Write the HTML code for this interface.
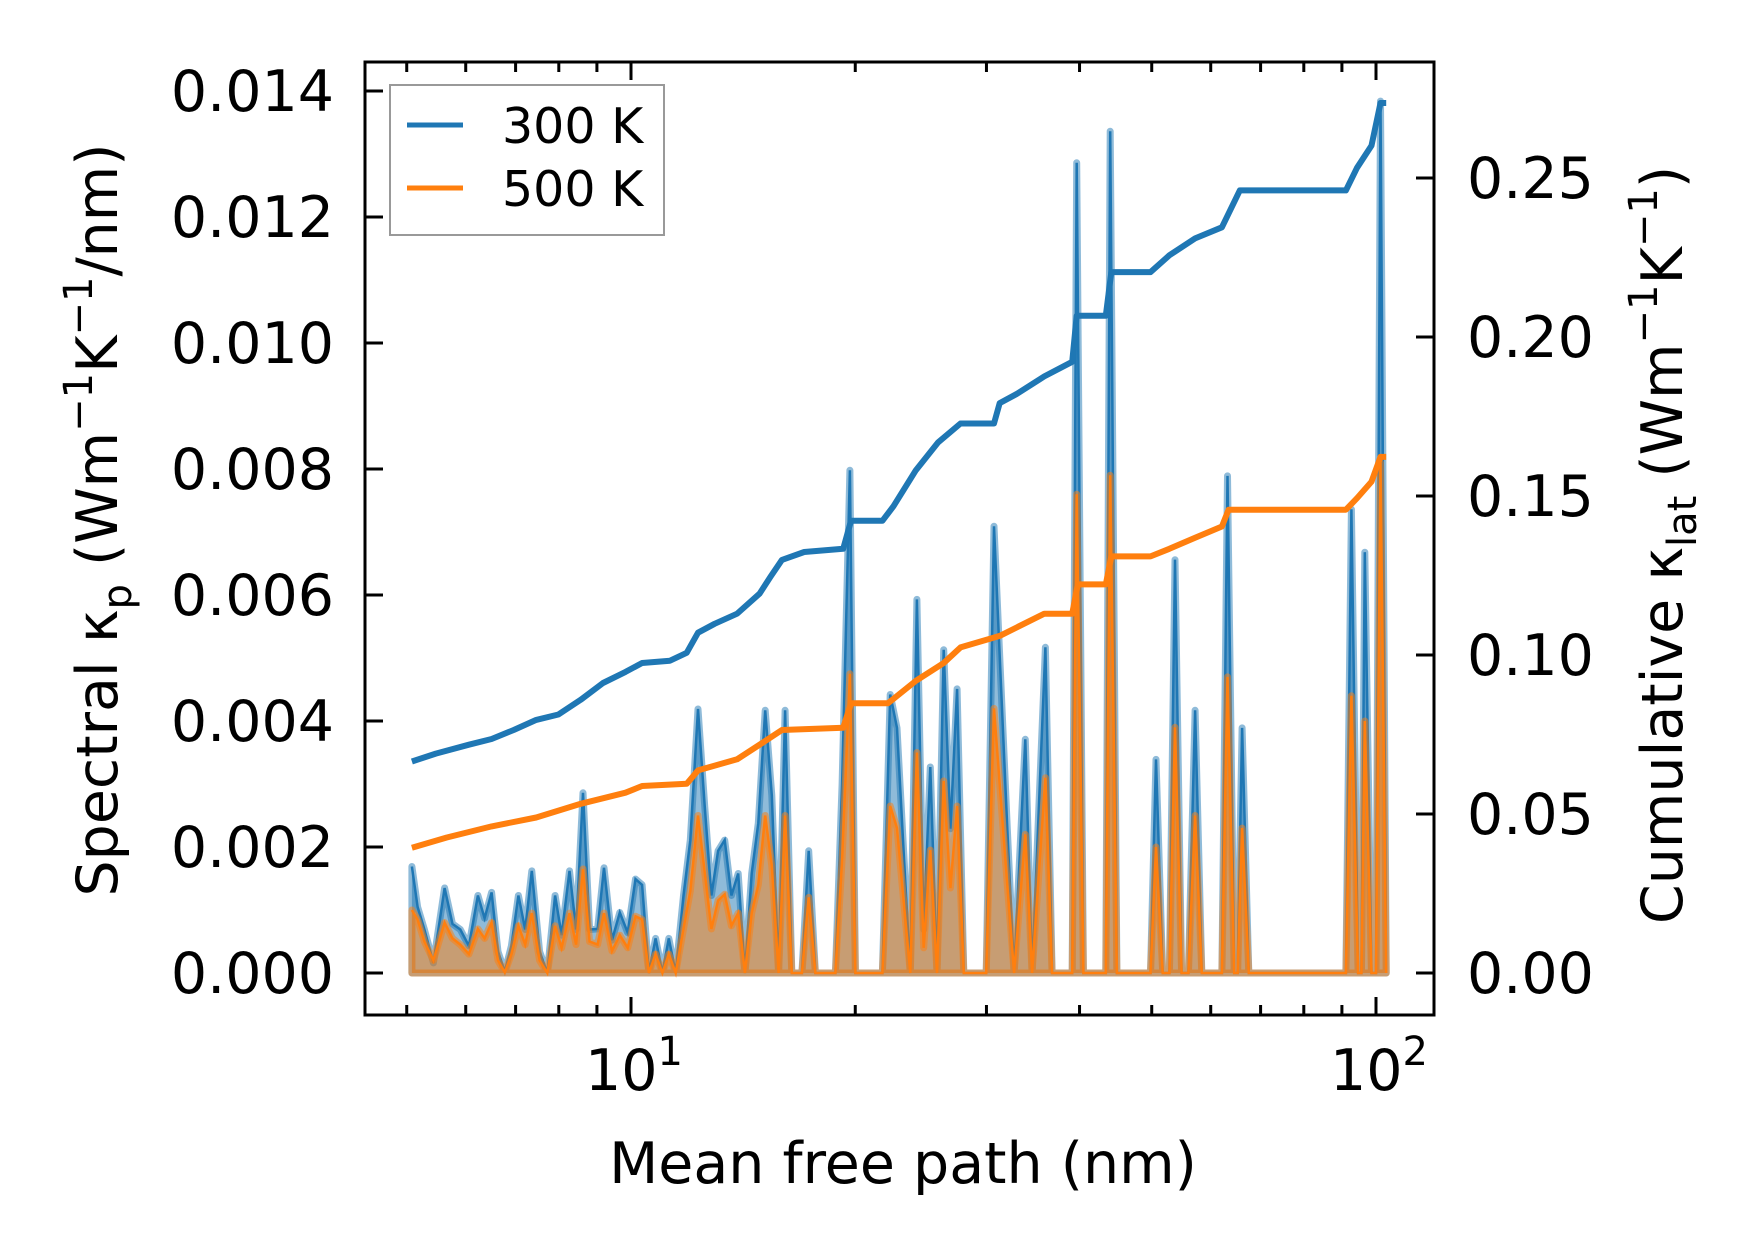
<!DOCTYPE html>
<html><head><meta charset="utf-8"><style>
html,body{margin:0;padding:0;background:#fff}
svg{display:block}
text{font-family:"DejaVu Sans","Liberation Sans",sans-serif;fill:#000}
</style></head><body>
<svg id="chart" width="1753" height="1254" viewBox="0 0 1753 1254" xmlns="http://www.w3.org/2000/svg">
<g id="plot"></g>
</svg>
<script>
const specMfp=[5.08,5.17,5.28,5.43,5.62,5.76,5.90,6.06,6.23,6.36,6.50,6.63,6.77,6.91,7.06,7.21,7.36,7.54,7.72,7.91,8.07,8.27,8.44,8.62,8.80,9.02,9.20,9.43,9.66,9.90,10.14,10.35,10.57,10.79,11.02,11.24,11.48,11.76,12.01,12.30,12.56,12.82,13.09,13.36,13.64,13.93,14.22,14.52,14.82,15.14,15.45,15.78,16.10,16.44,16.96,17.32,17.68,18.81,19.20,19.67,20.01,21.75,22.28,22.75,23.22,23.71,24.20,24.71,25.22,25.75,26.29,26.84,27.40,27.97,29.98,30.71,32.0,32.68,33.83,34.54,36.0,36.75,39.10,39.65,40.48,43.38,43.98,44.90,49.81,50.66,51.72,52.81,53.72,54.84,56.0,57.17,58.37,62.11,63.19,64.52,65.2,66.1,67.5,91.11,92.69,94.62,95.6,96.6,98.63,100,101.4,103.2];
const spec300=[0.00169,0.00105,0.00069,0.00016,0.00135,0.00078,0.00069,0.00043,0.00123,0.00087,0.00128,0.00034,0.00002,0.00043,0.00123,0.00069,0.00162,0.00034,0,0.00123,0.00060,0.00162,0.00069,0.00286,0.00069,0.0007,0.00167,0.00052,0.00096,0.00064,0.00149,0.00140,0,0.00055,0,0.00055,0,0.00123,0.00211,0.00419,0.00265,0.00123,0.00194,0.00211,0.00123,0.00158,0,0.00158,0.00238,0.00417,0.00282,0,0.00417,0,0,0.00194,0,0,0.00300,0.00798,0,0,0.00442,0.00389,0.00194,0,0.00593,0.00069,0.00327,0,0.00513,0.00229,0.00451,0,0,0.00709,0.00229,0,0.00371,0,0.00517,0,0,0.01286,0,0,0.01336,0,0,0.00339,0,0,0.00656,0,0,0.00417,0,0,0.00789,0,0,0.00389,0,0,0.00736,0,0,0.00668,0,0,0.01384,0];
const spec500=[0.00100,0.00085,0.00050,0.00020,0.00080,0.00055,0.00045,0.00030,0.00070,0.00055,0.00080,0.00020,0.00001,0.00030,0.00075,0.00045,0.00095,0.00020,0,0.00075,0.00040,0.00095,0.00045,0.00165,0.00050,0.00045,0.00095,0.00035,0.00060,0.00040,0.00090,0.00085,0,0.00030,0,0.00030,0,0.00070,0.00130,0.00250,0.00160,0.00070,0.00115,0.00125,0.00075,0.00095,0,0.00095,0.00140,0.00250,0.00170,0,0.00250,0,0,0.00120,0,0,0.00180,0.00475,0,0,0.00265,0.00230,0.00115,0,0.00350,0.00040,0.00195,0,0.00305,0.00135,0.00265,0,0,0.00420,0.00140,0,0.00220,0,0.00310,0,0,0.00760,0,0,0.00790,0,0,0.00200,0,0,0.00390,0,0,0.00250,0,0,0.00470,0,0,0.00230,0,0,0.00440,0,0,0.00400,0,0,0.00810,0];
const cumMfp300=[5.08,5.47,6.06,6.50,6.96,7.46,7.99,8.56,9.17,9.83,10.35,11.28,11.88,12.30,12.95,13.88,14.88,15.39,15.94,17.08,19.27,19.74,21.75,22.51,24.12,25.84,27.69,30.71,31.25,32.90,35.87,39.10,39.65,43.38,44.13,49.81,52.81,57.17,62.11,65.65,91.11,94.29,98.63,101.4,103.2];
const cum300=[0.0665,0.0690,0.0718,0.0736,0.0764,0.0796,0.0813,0.0859,0.0912,0.0947,0.0975,0.0982,0.1007,0.1070,0.1098,0.1130,0.1193,0.1246,0.1299,0.1324,0.1334,0.1422,0.1422,0.1468,0.1581,0.1669,0.1728,0.1728,0.1792,0.1820,0.1876,0.1922,0.2067,0.2067,0.2204,0.2204,0.2257,0.2310,0.2345,0.2461,0.2461,0.2532,0.2602,0.2736,0.2736];
const cumMfp500=[5.08,5.66,6.50,7.46,8.56,9.83,10.35,11.88,12.30,13.88,14.88,15.94,19.27,19.74,22.12,24.12,26.29,27.69,31.25,35.87,39.10,39.79,43.38,44.13,49.81,52.81,57.17,62.11,63.41,91.11,94.29,98.63,101.4,103.2];
const cum500=[0.0394,0.0426,0.0461,0.0489,0.0532,0.0567,0.0588,0.0595,0.0637,0.0672,0.0718,0.0764,0.0771,0.0848,0.0848,0.0919,0.0975,0.1024,0.1060,0.1130,0.1130,0.1222,0.1222,0.1310,0.1310,0.1334,0.1369,0.1404,0.1457,0.1457,0.1493,0.1545,0.1623,0.1623];
const leftTicks=[0,0.002,0.004,0.006,0.008,0.010,0.012,0.014];
const leftTickLabels=["0.000","0.002","0.004","0.006","0.008","0.010","0.012","0.014"];
const rightTicks=[0,0.05,0.10,0.15,0.20,0.25];
const rightTickLabels=["0.00","0.05","0.10","0.15","0.20","0.25"];
const xMajor=[10,100];
const xMinor=[5,6,7,8,9,20,30,40,50,60,70,80,90];

const NS="http://www.w3.org/2000/svg";
const L=365,R=1434,T=62,B=1015;
function sx(v){return 631+(Math.log10(v)-1)*745;}
function syL(v){return 973-v/0.002*126;}
function syR(v){return 973-v/0.05*159;}
const g=document.getElementById('plot');
function mk(tag,attrs,parent){const e=document.createElementNS(NS,tag);for(const k in attrs)e.setAttribute(k,attrs[k]);(parent||g).appendChild(e);return e;}

function areaPath(xs,ys){let d='M'+sx(xs[0]).toFixed(1)+','+syL(0).toFixed(1);xs.forEach((x,i)=>{d+='L'+sx(x).toFixed(1)+','+syL(ys[i]).toFixed(1);});d+='L'+sx(xs[xs.length-1]).toFixed(1)+','+syL(0).toFixed(1)+'Z';return d;}
function linePath(xs,ys,fy){return xs.map((x,i)=>(i?'L':'M')+sx(x).toFixed(1)+','+fy(ys[i]).toFixed(1)).join('');}

const clip=mk('clipPath',{id:'pc'});mk('rect',{x:L,y:T,width:R-L,height:B-T},clip);
const data=mk('g',{'clip-path':'url(#pc)'});
let e;
e=mk('path',{d:areaPath(specMfp,spec300),fill:'#1f77b4','fill-opacity':0.5,stroke:'#1f77b4','stroke-opacity':0.5,'stroke-width':7,'stroke-linejoin':'round'},data);


e=mk('path',{d:linePath(specMfp,spec300,syL),fill:'none',stroke:'#1f77b4','stroke-width':2.5},data);


e=mk('path',{d:areaPath(specMfp,spec500),fill:'#ff7f0e','fill-opacity':0.5,stroke:'#ff7f0e','stroke-opacity':0.5,'stroke-width':7,'stroke-linejoin':'round'},data);


e=mk('path',{d:linePath(specMfp,spec500,syL),fill:'none',stroke:'#ff7f0e','stroke-width':2.5},data);


e=mk('path',{d:linePath(cumMfp300,cum300,syR),fill:'none',stroke:'#1f77b4','stroke-width':6,'stroke-linejoin':'round'},data);


e=mk('path',{d:linePath(cumMfp500,cum500,syR),fill:'none',stroke:'#ff7f0e','stroke-width':6,'stroke-linejoin':'round'},data);



const tk={stroke:'#000','stroke-width':3};
leftTicks.forEach((v,i)=>{const y=syL(v);
 mk('line',Object.assign({x1:L,x2:L+18,y1:y,y2:y},tk));
 const t=mk('text',{x:334,y:y+20,'text-anchor':'end','font-size':57});t.textContent=leftTickLabels[i];
 
 
});
rightTicks.forEach((v,i)=>{const y=syR(v);
 mk('line',Object.assign({x1:R-18,x2:R,y1:y,y2:y},tk));
 const t=mk('text',{x:1467,y:y+20,'font-size':57});t.textContent=rightTickLabels[i];
 
 
});
xMajor.forEach((v,i)=>{const x=sx(v);
 mk('line',Object.assign({x1:x,x2:x,y1:B,y2:B-18},tk));
 mk('line',Object.assign({x1:x,x2:x,y1:T,y2:T+18},tk));
 const t=mk('text',{x:x+3,y:1090,'text-anchor':'middle','font-size':57});
 t.textContent='10';
 const s=mk('tspan',{dy:-25,'font-size':40},t);s.textContent=String(i+1);
 
 
});
xMinor.forEach(v=>{const x=sx(v);
 mk('line',Object.assign({x1:x,x2:x,y1:B,y2:B-10},tk));
 mk('line',Object.assign({x1:x,x2:x,y1:T,y2:T+10},tk));
});
e=mk('rect',{x:L,y:T,width:R-L,height:B-T,fill:'none',stroke:'#000','stroke-width':3});



e=mk('text',{x:903,y:1183,'text-anchor':'middle','font-size':57});e.textContent='Mean free path (nm)';


e=mk('text',{x:0,y:0,'text-anchor':'middle','font-size':57,transform:'translate(117,520) rotate(-90)'});
e.innerHTML='Spectral κ<tspan font-size="40" dy="14">p</tspan><tspan dy="-14"> (Wm</tspan><tspan font-size="40" dy="-25">−1</tspan><tspan dy="25">K</tspan><tspan font-size="40" dy="-25">−1</tspan><tspan dy="25">/nm)</tspan>';


e=mk('text',{x:0,y:0,'text-anchor':'middle','font-size':57,transform:'translate(1682,545) rotate(-90)'});
e.innerHTML='Cumulative κ<tspan font-size="40" dy="14">lat</tspan><tspan dy="-14"> (Wm</tspan><tspan font-size="40" dy="-25">−1</tspan><tspan dy="25">K</tspan><tspan font-size="40" dy="-25">−1</tspan><tspan dy="25">)</tspan>';



const lg=mk('g',{});


mk('rect',{x:390,y:85,width:274,height:150,fill:'#fff','fill-opacity':0.8,stroke:'#999','stroke-width':2},lg);
mk('line',{x1:407,x2:463,y1:125,y2:125,stroke:'#1f77b4','stroke-width':5},lg);
mk('line',{x1:407,x2:463,y1:188,y2:188,stroke:'#ff7f0e','stroke-width':5},lg);
e=mk('text',{x:502,y:143,'font-size':49},lg);e.textContent='300 K';


e=mk('text',{x:502,y:206,'font-size':49},lg);e.textContent='500 K';


</script>
</body></html>
